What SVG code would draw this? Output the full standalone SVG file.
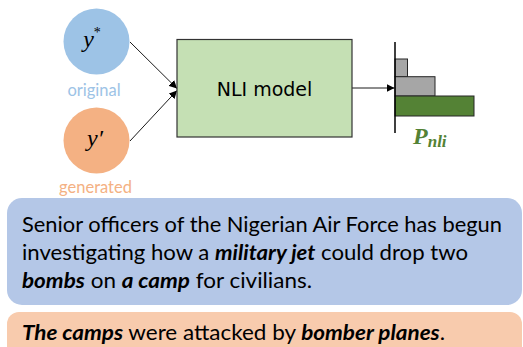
<svg xmlns="http://www.w3.org/2000/svg" width="523" height="347" viewBox="0 0 523 347">
<defs>
<marker id="ah" viewBox="0 0 10 10" refX="10" refY="5" markerWidth="8" markerHeight="8" markerUnits="userSpaceOnUse" orient="auto">
<path d="M0,0 L10,5 L0,10 z" fill="#000"/>
</marker>
<style>
.conn{stroke:#000;stroke-width:0.9;fill:none;marker-end:url(#ah);}
.lbl{font-family:Lato,"Liberation Sans",sans-serif;font-size:16.5px;text-anchor:middle;}
.math{font-family:"Liberation Serif","DejaVu Serif",serif;font-style:italic;font-size:24px;text-anchor:middle;fill:#000;}
.body{font-family:Lato,"Liberation Sans",sans-serif;font-size:20.5px;fill:#000;}
.bi{font-weight:bold;font-style:italic;}
.bar{stroke:#262626;stroke-width:1;}
</style>
</defs>
<rect width="523" height="347" fill="#fff"/>
<g id="connectors">
<line class="conn" x1="130" y1="42" x2="177" y2="88.5"/>
<line class="conn" x1="130" y1="141" x2="177" y2="90.5"/>
<line class="conn" x1="352" y1="88" x2="394.5" y2="88"/>
</g>
<g id="node-original">
<circle cx="96.5" cy="41.5" r="33" fill="#9DC3E6"/>
<text class="math" x="92" y="47">y<tspan font-style="normal" font-size="14" dy="-10">*</tspan></text>
<text class="lbl" x="94" y="96" fill="#9DC3E6">original</text>
</g>
<g id="node-generated">
<circle cx="96.5" cy="140.5" r="33" fill="#F4B183"/>
<text class="math" x="95" y="146">y′</text>
<text class="lbl" x="95.5" y="193" fill="#F4B183">generated</text>
</g>
<g id="node-nli">
<rect x="177" y="39.5" width="175" height="97.5" fill="#C5E0B4" stroke="#333" stroke-width="1.2"/>
<text x="264.5" y="96" font-family="'DejaVu Sans',sans-serif" font-size="19" text-anchor="middle" fill="#000">NLI model</text>
</g>
<g id="node-pnli">
<rect class="bar" x="395" y="59" width="12.5" height="17.7" fill="#A6A6A6"/>
<rect class="bar" x="395" y="76.7" width="40" height="19.3" fill="#A6A6A6"/>
<rect class="bar" x="395" y="96" width="79" height="20" fill="#548235"/>
<line x1="395" y1="42" x2="395" y2="133" stroke="#000" stroke-width="1.5"/>
<text x="413" y="144" font-family="'Liberation Serif','DejaVu Serif',serif" font-weight="bold" font-style="italic" font-size="24" fill="#548235">P<tspan font-size="17" dy="3">nli</tspan></text>
</g>
<g id="node-source">
<rect x="7" y="198" width="515" height="107" rx="15" ry="15" fill="#B4C7E7"/>
<text class="body" x="22" y="232" textLength="480" lengthAdjust="spacingAndGlyphs">Senior officers of the Nigerian Air Force has begun</text>
<text class="body" x="22" y="260" textLength="446" lengthAdjust="spacingAndGlyphs">investigating how a <tspan class="bi">military jet</tspan> could drop two</text>
<text class="body" x="22" y="288" textLength="290" lengthAdjust="spacingAndGlyphs"><tspan class="bi">bombs</tspan> on <tspan class="bi">a camp</tspan> for civilians.</text>
</g>
<g id="node-claim">
<rect x="7" y="312" width="515" height="60" rx="12" ry="12" fill="#F8CBAD"/>
<text class="body" x="22" y="340" textLength="423" lengthAdjust="spacingAndGlyphs"><tspan class="bi">The camps</tspan> were attacked by <tspan class="bi">bomber planes</tspan>.</text>
</g>
</svg>
